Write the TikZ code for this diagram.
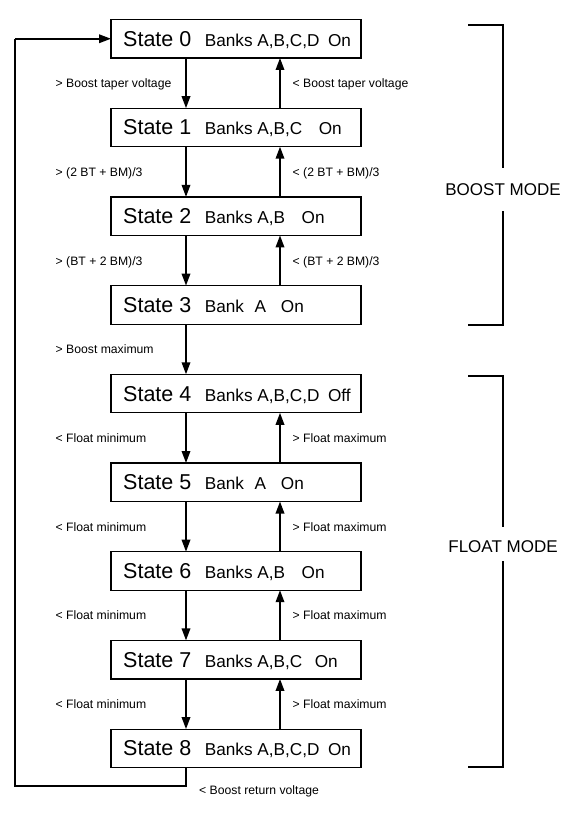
\documentclass[tikz,border=0pt]{standalone}
\usepackage{fontspec}
\setmainfont{Liberation Sans}
\usetikzlibrary{arrows.meta}
\tikzset{
 box/.style={draw, line width=1.2pt, minimum width=250pt, minimum height=38.5pt, inner sep=0pt, outer sep=0pt},
 sttxt/.style={anchor=base west, inner sep=0pt, font=\fontsize{21.5}{24}\selectfont},
 lbl/.style={anchor=base west, inner sep=0pt, font=\fontsize{12.2}{14}\selectfont},
 flow/.style={line width=1.8pt, -{Triangle[length=12pt,width=8.5pt]}},
 loopline/.style={line width=1.8pt},
 brk/.style={line width=1.3pt},
 modetxt/.style={inner sep=0pt, font=\fontsize{17}{19}\selectfont}
}
\newcommand\dsc[1]{{\fontsize{17.2}{19}\selectfont #1}}
\newcommand\stbox[4]{\node[box] (#1) at (236,#2) {};
 \node[sttxt] (#1t) at (123,#2+7.5) {State #3\hskip13.5pt\dsc{#4}};}
\begin{document}
\begin{tikzpicture}[x=1pt,y=-1pt]
\useasboundingbox (0,0) rectangle (570,813);
\coordinate (dx) at (186,0);
\coordinate (ux) at (280,0);
\stbox{s0}{38.75}{0}{Banks A,B,C,D\hskip8.5pt On}
\stbox{s1}{127.45}{1}{Banks A,B,C\hskip16.5pt On}
\stbox{s2}{216.15}{2}{Banks A,B\hskip16.5pt On}
\stbox{s3}{304.85}{3}{Bank\hskip10.5pt A\hskip15pt On}
\stbox{s4}{393.55}{4}{Banks A,B,C,D\hskip8.5pt Off}
\stbox{s5}{482.25}{5}{Bank\hskip10.5pt A\hskip15pt On}
\stbox{s6}{570.95}{6}{Banks A,B\hskip16.5pt On}
\stbox{s7}{659.65}{7}{Banks A,B,C\hskip12.5pt On}
\stbox{s8}{748.35}{8}{Banks A,B,C,D\hskip8.5pt On}
% down arrows
\foreach \a/\b in {s0/s1,s1/s2,s2/s3,s3/s4,s4/s5,s5/s6,s6/s7,s7/s8}
  \draw[flow] (\a.south -| dx) -- (\b.north -| dx);
% up arrows
\foreach \a/\b in {s1/s0,s2/s1,s3/s2,s5/s4,s6/s5,s7/s6,s8/s7}
  \draw[flow] (\a.north -| ux) -- (\b.south -| ux);
% labels
\node[lbl] (l01) at (55.5,87.6) {> Boost taper voltage};
\node[lbl] (r01) at (292.5,87.6) {< Boost taper voltage};
\node[lbl] (l12) at (55.5,176.3) {> (2 BT + BM)/3};
\node[lbl] (r12) at (292.5,176.3) {< (2 BT + BM)/3};
\node[lbl] (l23) at (55.5,265) {> (BT + 2 BM)/3};
\node[lbl] (r23) at (292.5,265) {< (BT + 2 BM)/3};
\node[lbl] (l34) at (55.5,353.7) {> Boost maximum};
\node[lbl] (l45) at (55.5,442.4) {< Float minimum};
\node[lbl] (r45) at (292.5,442.4) {> Float maximum};
\node[lbl] (l56) at (55.5,531.1) {< Float minimum};
\node[lbl] (r56) at (292.5,531.1) {> Float maximum};
\node[lbl] (l67) at (55.5,619.8) {< Float minimum};
\node[lbl] (r67) at (292.5,619.8) {> Float maximum};
\node[lbl] (l78) at (55.5,708.5) {< Float minimum};
\node[lbl] (r78) at (292.5,708.5) {> Float maximum};
\node[lbl] (lret) at (199,794.2) {< Boost return voltage};
% return loop
\coordinate (lb) at (15,786);
\draw[loopline] (s8.south -| dx) -- (dx |- lb) -- (lb) -- (lb |- s0.west);
\draw[flow] (lb |- s0.west) -- (s0.west);
% mode brackets
\node[modetxt] (boost) at (503,190) {BOOST MODE};
\node[modetxt] (float) at (503,547) {FLOAT MODE};
\draw[brk] (468,25) -- (503,25) -- (503,168);
\draw[brk] (503,211) -- (503,325) -- (468,325);
\draw[brk] (468,376) -- (503,376) -- (503,527);
\draw[brk] (503,561) -- (503,767) -- (468,767);
\end{tikzpicture}
\end{document}
